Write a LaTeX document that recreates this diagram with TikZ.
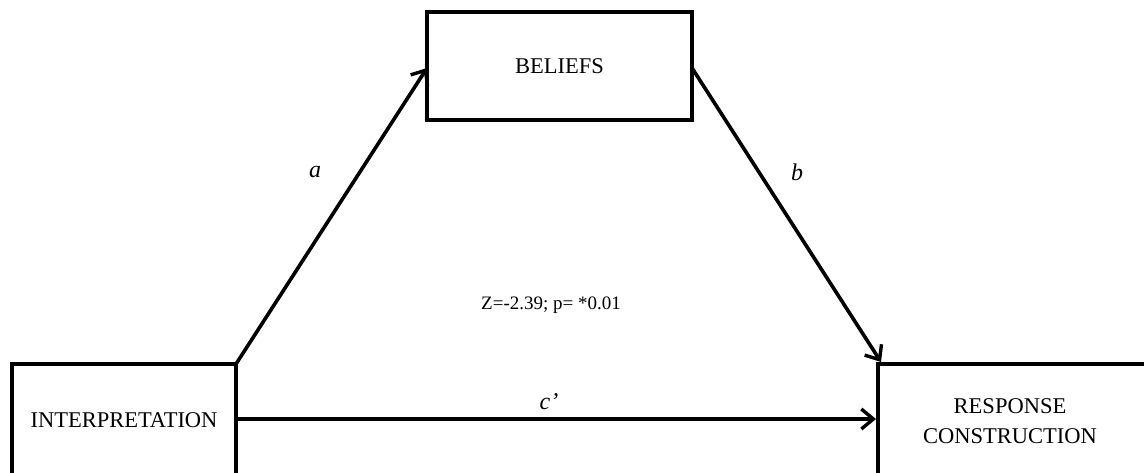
\documentclass[tikz,border=0pt]{standalone}
\usepackage{fontspec}
\setmainfont{Liberation Serif}
\usetikzlibrary{arrows.meta}
\begin{document}
\begin{tikzpicture}[x=1pt,y=-1pt,
  box/.style={draw=black, line width=4pt, fill=none},
  conn/.style={line width=3.6pt, -{Straight Barb[length=12pt,width=20pt,line width=3.4pt]}},
  txt/.style={font=\fontsize{22.5}{30}\selectfont, align=center},
  lbl/.style={font=\fontsize{24}{28}\selectfont\itshape}]
\useasboundingbox (0,0) rectangle (1144,472);
\draw[box] (427,12) rectangle (692,120);
\node[txt] (bel) at (559.5,66) {BELIEFS};
\coordinate (belL) at (427,68);
\coordinate (belR) at (692,68);
\draw[box] (12,490) -- (12,364) -- (236,364) -- (236,490);
\node[txt] (int) at (124,420) {INTERPRETATION};
\coordinate (intTR) at (236,364);
\coordinate (intR) at (236,419);
\draw[box] (878,490) -- (878,364) -- (1150,364);
\node[txt] (res) at (1010,421) {RESPONSE\\CONSTRUCTION};
\coordinate (resTL) at (881,362);
\coordinate (resL) at (876,419);
\draw[conn] (intTR) -- (belL);
\draw[conn] (belR) -- (resTL);
\draw[conn] (intR) -- (resL);
\node[lbl] (la) at (315,172) {a};
\node[lbl] (lb) at (797,172) {b};
\node[lbl] (lc) at (549,402) {c’};
\node (z) at (551,305) {\fontsize{19}{23}\selectfont Z=-2.39; p= *0.01};
\end{tikzpicture}
\end{document}
